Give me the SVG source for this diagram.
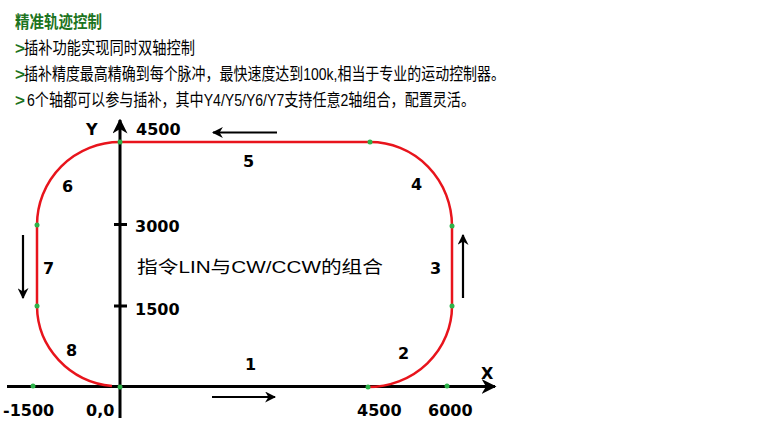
<svg xmlns="http://www.w3.org/2000/svg" width="764" height="427" viewBox="0 0 764 427">
<defs>
<style>
.hd{font-family:"Liberation Sans","Noto Sans CJK SC",sans-serif;font-size:17px;fill:#000}
.gt{fill:#1c7320;font-weight:bold}
.num{font-family:"DejaVu Sans","Liberation Sans",sans-serif;font-weight:bold;font-size:16px;fill:#000}
.ax{stroke:#000;stroke-width:3;fill:none}
.tr{stroke:#e8141c;stroke-width:2.5;fill:none}
.dot{fill:#2db34a}
.arr{stroke:#000;stroke-width:2.2;fill:none;marker-end:url(#ah)}
</style>
<marker id="ah" viewBox="0 0 10 10" refX="9" refY="5" markerWidth="5" markerHeight="5" orient="auto" markerUnits="strokeWidth">
<path d="M0,0 L10,5 L0,10 L3,5 Z" fill="#000"/>
</marker>
</defs>
<rect width="764" height="427" fill="#fff"/>
<g id="header">
<text class="hd gt" x="15" y="28" font-size="18" textLength="87" lengthAdjust="spacingAndGlyphs">精准轨迹控制</text>
<text class="hd gt" x="15" y="54">&gt;</text>
<text class="hd" x="24" y="54" textLength="171" lengthAdjust="spacingAndGlyphs">插补功能实现同时双轴控制</text>
<text class="hd gt" x="15" y="80">&gt;</text>
<text class="hd" x="24" y="80" textLength="481" lengthAdjust="spacingAndGlyphs">插补精度最高精确到每个脉冲，最快速度达到100k,相当于专业的运动控制器。</text>
<text class="hd gt" x="15" y="106">&gt;</text>
<text class="hd" x="27" y="106" textLength="448" lengthAdjust="spacingAndGlyphs">6个轴都可以参与插补，其中Y4/Y5/Y6/Y7支持任意2轴组合，配置灵活。</text>
</g>
<g id="axes">
<path class="ax" d="M7,386.5 H495" marker-end="url(#ah)"/>
<path class="ax" d="M120,418 V120" marker-end="url(#ah)"/>
<path class="ax" d="M114,224.5 H127 M114,306 H127"/>
</g>
<g id="trajectory">
<path class="tr" d="M120,142 H370 A82,84 0 0 1 452,226 V306 A84,81 0 0 1 368,387"/>
<path class="tr" d="M120,142 A83,83 0 0 0 37,225 V306 A83,81 0 0 0 112,386"/>
</g>
<g id="points">
<circle class="dot" cx="120" cy="142" r="2.5"/>
<circle class="dot" cx="370" cy="142" r="2.5"/>
<circle class="dot" cx="452" cy="226" r="2.5"/>
<circle class="dot" cx="452" cy="306" r="2.5"/>
<circle class="dot" cx="368" cy="387" r="2.5"/>
<circle class="dot" cx="120" cy="387" r="2.5"/>
<circle class="dot" cx="37" cy="225" r="2.5"/>
<circle class="dot" cx="37" cy="306" r="2.5"/>
<circle class="dot" cx="33" cy="386" r="2.5"/>
<circle class="dot" cx="447" cy="386" r="2.5"/>
</g>
<g id="connectors">
<path class="arr" d="M277,132.5 H213"/>
<path class="arr" d="M212,397 H275"/>
<path class="arr" d="M23,235 V298"/>
<path class="arr" d="M463,298 V235"/>
</g>
<g id="labels">
<text class="num" x="86" y="135" font-size="17">Y</text>
<text class="num" x="481" y="379" font-size="17">X</text>
<text class="num" x="136" y="135">4500</text>
<text class="num" x="135" y="232">3000</text>
<text class="num" x="135" y="315">1500</text>
<text class="num" x="3" y="416">-1500</text>
<text class="num" x="86" y="416">0,0</text>
<text class="num" x="357" y="416">4500</text>
<text class="num" x="428" y="416">6000</text>
<text class="num" x="243" y="167">5</text>
<text class="num" x="62" y="192">6</text>
<text class="num" x="43" y="274">7</text>
<text class="num" x="66" y="356">8</text>
<text class="num" x="245" y="370">1</text>
<text class="num" x="398" y="359">2</text>
<text class="num" x="430" y="274">3</text>
<text class="num" x="411" y="190">4</text>
<text class="hd" x="137" y="273" font-size="21" textLength="246" lengthAdjust="spacingAndGlyphs">指令LIN与CW/CCW的组合</text>
</g>
</svg>
